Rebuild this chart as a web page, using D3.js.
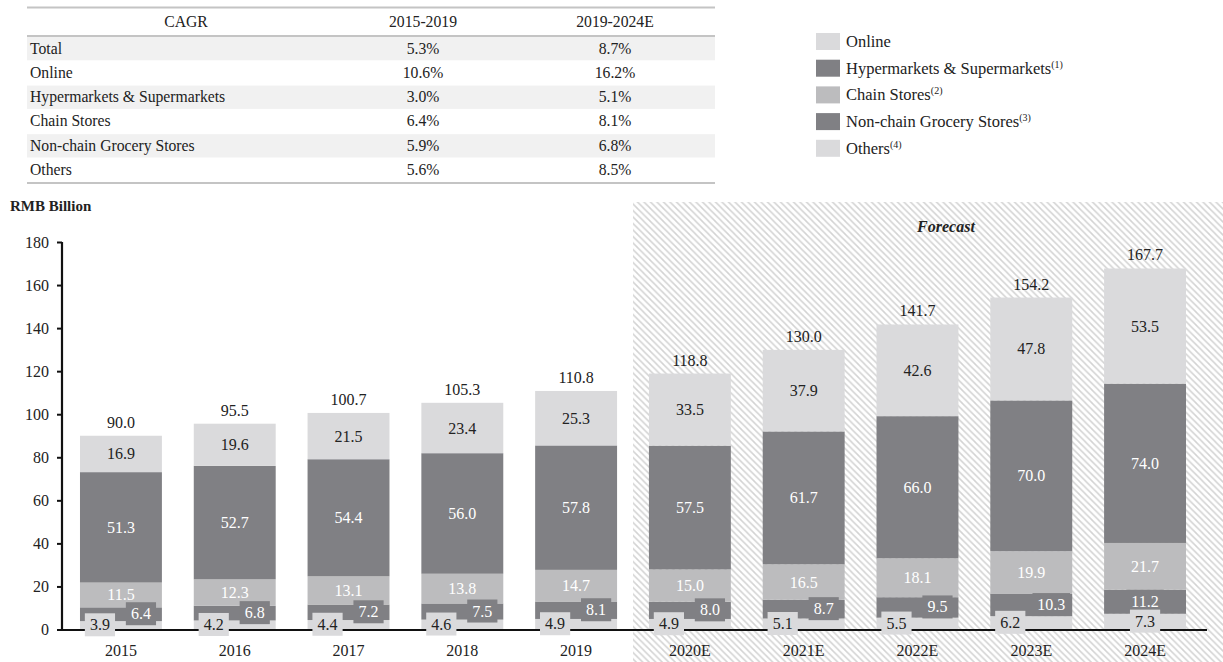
<!DOCTYPE html>
<html>
<head>
<meta charset="utf-8">
<script src="https://cdn.jsdelivr.net/npm/d3@7"></script>
<style>
  body { margin: 0; background: #fff; }
  svg { display: block; font-family: 'Liberation Serif', 'Times New Roman', serif; }
</style>
</head>
<body>
<svg id="chart" width="1223" height="662"></svg>
<script>
// data ------------------------------
const years = ['2015', '2016', '2017', '2018', '2019', '2020E', '2021E', '2022E', '2023E', '2024E']
const others = [3.9, 4.2, 4.4, 4.6, 4.9, 4.9, 5.1, 5.5, 6.2, 7.3]
const nonChain = [6.4, 6.8, 7.2, 7.5, 8.1, 8.0, 8.7, 9.5, 10.3, 11.2]
const chain = [11.5, 12.3, 13.1, 13.8, 14.7, 15.0, 16.5, 18.1, 19.9, 21.7]
const hyper = [51.3, 52.7, 54.4, 56.0, 57.8, 57.5, 61.7, 66.0, 70.0, 74.0]
const online = [16.9, 19.6, 21.5, 23.4, 25.3, 33.5, 37.9, 42.6, 47.8, 53.5]
const totals = [90.0, 95.5, 100.7, 105.3, 110.8, 118.8, 130.0, 141.7, 154.2, 167.7]
const yTicks = [0, 20, 40, 60, 80, 100, 120, 140, 160, 180]

const cagrHeader = ['CAGR', '2015-2019', '2019-2024E']
const cagrRows = ['Total', 'Online', 'Hypermarkets & Supermarkets', 'Chain Stores', 'Non-chain Grocery Stores', 'Others']
const cagr1519 = ['5.3%', '10.6%', '3.0%', '6.4%', '5.9%', '5.6%']
const cagr1924 = ['8.7%', '16.2%', '5.1%', '8.1%', '6.8%', '8.5%']

const legendNames = ['Online', 'Hypermarkets & Supermarkets', 'Chain Stores', 'Non-chain Grocery Stores', 'Others']
const legendNotes = ['', '(1)', '(2)', '(3)', '(4)']

const LIGHT = '#dadadc'
const MID = '#bcbcbe'
const DARK = '#808084'

const svg = d3.select('#chart')

// hatch pattern for forecast area
const defs = svg.append('defs')
defs.append('pattern')
  .attr('id', 'hatch')
  .attr('patternUnits', 'userSpaceOnUse')
  .attr('width', 6.5)
  .attr('height', 6.5)
  .append('path')
  .attr('d', 'M-1,-1 L7.5,7.5 M-1,5.5 L1,7.5 M5.5,-1 L7.5,1')
  .attr('stroke', '#d3d3d3')
  .attr('stroke-width', 1.5)

// table ------------------------------
function drawTable() {
  const g = svg.append('g')
  const left = 27
  const right = 715
  const rowTop = 37
  const rowH = 24.3
  const colX = [186, 423, 615]

  cagrRows.forEach((r, i) => {
    if (i % 2 === 0) {
      g.append('rect')
        .attr('x', left).attr('y', rowTop + i * rowH)
        .attr('width', right - left).attr('height', rowH - 1)
        .attr('fill', '#f1f1f1')
    }
  })

  ;[7.5, 36, 183].forEach((y) => {
    g.append('line')
      .attr('x1', left).attr('x2', right)
      .attr('y1', y).attr('y2', y)
      .attr('stroke', '#c4c4c4').attr('stroke-width', 2)
  })

  g.selectAll('text.head')
    .data(cagrHeader)
    .join('text')
    .attr('x', (d, i) => colX[i])
    .attr('y', 27)
    .attr('text-anchor', 'middle')
    .attr('font-size', 15.7)
    .attr('fill', '#222')
    .text((d) => d)

  const rowY = (i) => rowTop + i * rowH + 16.5
  g.selectAll('text.row')
    .data(cagrRows)
    .join('text')
    .attr('x', 30)
    .attr('y', (d, i) => rowY(i))
    .attr('font-size', 15.7)
    .attr('fill', '#222')
    .text((d) => d)

  ;[cagr1519, cagr1924].forEach((col, c) => {
    g.selectAll(null)
      .data(col)
      .join('text')
      .attr('x', colX[c + 1])
      .attr('y', (d, i) => rowY(i))
      .attr('text-anchor', 'middle')
      .attr('font-size', 15.7)
      .attr('fill', '#222')
      .text((d) => d)
  })
}

// legend ------------------------------
function drawLegend() {
  const colors = [LIGHT, DARK, MID, DARK, LIGHT]
  const g = svg.append('g').attr('transform', 'translate(816, 33)')
  const items = g.selectAll('g')
    .data(legendNames)
    .join('g')
    .attr('transform', (d, i) => `translate(0, ${i * 26.7})`)
  items.append('rect')
    .attr('width', 24).attr('height', 17)
    .attr('fill', (d, i) => colors[i])
  const t = items.append('text')
    .attr('x', 30).attr('y', 14)
    .attr('font-size', 16.5)
    .attr('fill', '#222')
  t.append('tspan').text((d) => d)
  t.append('tspan')
    .attr('font-size', 10)
    .attr('dy', -6)
    .text((d, i) => legendNotes[i])
}

// bars ------------------------------
function drawChart() {
  const x = d3.scaleBand().domain(years).range([62, 1204]).paddingInner(0.28).paddingOuter(0.158)
  const y = d3.scaleLinear().domain([0, 180]).range([629.5, 242])

  // forecast background
  const fx = x('2020E') - (x.step() * x.paddingInner()) / 2
  svg.append('rect')
    .attr('x', fx).attr('y', 202)
    .attr('width', 1223 - fx).attr('height', 662 - 202)
    .attr('fill', 'url(#hatch)')

  svg.append('text')
    .attr('x', 946).attr('y', 232)
    .attr('text-anchor', 'middle')
    .attr('font-size', 16)
    .attr('font-weight', 'bold')
    .attr('font-style', 'italic')
    .attr('fill', '#222')
    .text('Forecast')

  svg.append('text')
    .attr('x', 10).attr('y', 211)
    .attr('font-size', 15)
    .attr('font-weight', 'bold')
    .attr('fill', '#222')
    .text('RMB Billion')

  const series = [
    { key: 'others', values: others, color: LIGHT },
    { key: 'nonChain', values: nonChain, color: DARK },
    { key: 'chain', values: chain, color: MID },
    { key: 'hyper', values: hyper, color: DARK },
    { key: 'online', values: online, color: LIGHT }
  ]
  const table = years.map((yr, i) => {
    const row = { year: yr }
    series.forEach((s) => (row[s.key] = s.values[i]))
    return row
  })
  const stack = d3.stack().keys(series.map((s) => s.key))(table)

  const layers = svg.selectAll('g.layer')
    .data(stack)
    .join('g')
    .attr('fill', (d, i) => series[i].color)
  layers.selectAll('rect')
    .data((d) => d)
    .join('rect')
    .attr('x', (d) => x(d.data.year))
    .attr('width', x.bandwidth())
    .attr('y', (d) => y(d[1]))
    .attr('height', (d) => y(d[0]) - y(d[1]))

  // axes
  const yAxis = svg.append('g')
    .attr('transform', 'translate(62,0)')
    .call(d3.axisLeft(y).tickValues(yTicks).tickSize(5).tickPadding(8))
  yAxis.select('.domain').attr('stroke', '#111').attr('stroke-width', 2.2)
    .attr('d', `M0,${y(180)}V${y(0) + 1}`)
  yAxis.selectAll('.tick line').attr('stroke', '#111').attr('stroke-width', 2)
  yAxis.selectAll('.tick text')
    .attr('font-size', 16).attr('font-family', 'Liberation Serif, serif').attr('fill', '#222')

  const xAxis = svg.append('g')
    .attr('transform', 'translate(0,630)')
    .call(d3.axisBottom(x).tickSize(0).tickPadding(15))
  xAxis.select('.domain').attr('stroke', '#111').attr('stroke-width', 2.2)
    .attr('d', 'M62,0H1207')
  xAxis.selectAll('.tick text')
    .attr('font-size', 16).attr('font-family', 'Liberation Serif, serif').attr('fill', '#222')

  // center labels
  const centerLabel = (layerIdx, color) => {
    svg.append('g').selectAll('text')
      .data(stack[layerIdx])
      .join('text')
      .attr('x', (d) => x(d.data.year) + x.bandwidth() / 2)
      .attr('y', (d) => (y(d[0]) + y(d[1])) / 2 + 5.5)
      .attr('text-anchor', 'middle')
      .attr('font-size', 16)
      .attr('fill', color)
      .text((d) => (d[1] - d[0]).toFixed(1))
  }
  centerLabel(4, '#222')
  centerLabel(3, '#fff')
  centerLabel(2, '#fff')

  // boxed small labels, staggered when they would collide
  const stagger = years.map((yr, i) => {
    const a = (y(stack[0][i][0]) + y(stack[0][i][1])) / 2
    const b = (y(stack[1][i][0]) + y(stack[1][i][1])) / 2
    return a - b < 19
  })
  const boxLabel = (layerIdx, dx, fill, color) => {
    const g = svg.append('g').selectAll('g')
      .data(stack[layerIdx])
      .join('g')
      .attr('transform', (d, i) => {
        const cx = x(d.data.year) + x.bandwidth() / 2 + (stagger[i] ? dx : 0)
        const cy = (y(d[0]) + y(d[1])) / 2 - 0.5
        return `translate(${cx},${cy})`
      })
    g.append('rect')
      .attr('x', (d) => -((d[1] - d[0]).toFixed(1).length * 7.4 + 8) / 2)
      .attr('y', -11.5)
      .attr('width', (d) => (d[1] - d[0]).toFixed(1).length * 7.4 + 8)
      .attr('height', 23)
      .attr('fill', fill)
    g.append('text')
      .attr('y', 5.5)
      .attr('text-anchor', 'middle')
      .attr('font-size', 16)
      .attr('fill', color)
      .text((d) => (d[1] - d[0]).toFixed(1))
  }
  boxLabel(1, 20, DARK, '#fff')
  boxLabel(0, -21, LIGHT, '#222')

  // totals
  svg.append('g').selectAll('text')
    .data(totals)
    .join('text')
    .attr('x', (d, i) => x(years[i]) + x.bandwidth() / 2)
    .attr('y', (d) => y(d) - 8)
    .attr('text-anchor', 'middle')
    .attr('font-size', 16)
    .attr('fill', '#222')
    .text((d) => d.toFixed(1))
}

drawTable()
drawLegend()
drawChart()
</script>
</body>
</html>
